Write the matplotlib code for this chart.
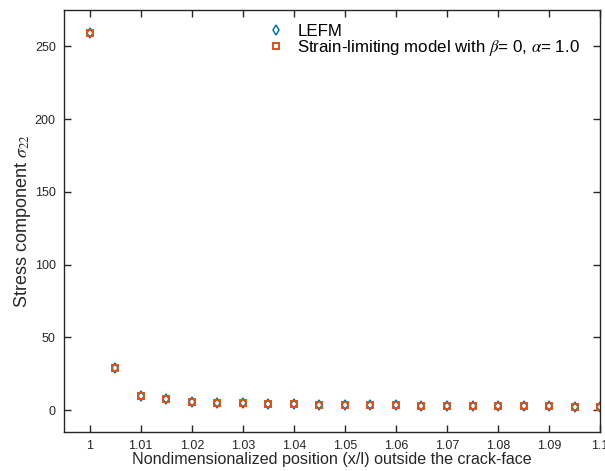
import numpy as np
import matplotlib.pyplot as plt

plt.rcParams['font.family'] = ['Liberation Sans', 'DejaVu Sans']
plt.rcParams['mathtext.fontset'] = 'stix'

# positions outside the crack face (x/l)
x_pos = [1.000, 1.005, 1.010, 1.015, 1.020, 1.025, 1.030, 1.035, 1.040, 1.045, 1.050,
         1.055, 1.060, 1.065, 1.070, 1.075, 1.080, 1.085, 1.090, 1.095, 1.100]
sigma_lefm = [259.0, 29.2, 9.4, 7.3, 5.7, 5.0, 4.6, 4.1, 3.9, 3.7, 3.4,
              3.3, 3.2, 3.1, 2.9, 2.8, 2.7, 2.6, 2.5, 2.4, 2.3]
sigma_strain = [259.0, 29.2, 9.4, 7.3, 5.7, 5.0, 4.6, 4.1, 3.9, 3.7, 3.4,
                3.3, 3.2, 3.1, 2.9, 2.8, 2.7, 2.6, 2.5, 2.4, 2.3]
x_ticks = [1.0, 1.01, 1.02, 1.03, 1.04, 1.05, 1.06, 1.07, 1.08, 1.09, 1.1]
x_tick_labels = ['1', '1.01', '1.02', '1.03', '1.04', '1.05', '1.06', '1.07', '1.08', '1.09', '1.1']
y_ticks = [0, 50, 100, 150, 200, 250]

blue = '#0072BD'
orange = '#D95319'
axcol = '#262626'

fig = plt.figure(figsize=(6.05, 4.71), dpi=100)
ax = fig.add_axes([0.106, 0.083, 0.886, 0.896])

ax.plot(x_pos, sigma_lefm, linestyle='none', marker='d', markersize=5.5,
        markerfacecolor='none', markeredgecolor=blue, markeredgewidth=1.1, label='LEFM')
ax.plot(x_pos, sigma_strain, linestyle='none', marker='s', markersize=4.3,
        markerfacecolor='none', markeredgecolor=orange, markeredgewidth=1.4,
        label=r'Strain-limiting model with $\beta$= 0, $\alpha$= 1.0')

ax.set_xlim(0.995, 1.1)
ax.set_ylim(-15, 275)
ax.set_xticks(x_ticks)
ax.set_xticklabels(x_tick_labels)
ax.set_yticks(y_ticks)
ax.tick_params(direction='in', top=True, right=True, length=5, width=1,
               labelsize=9, colors=axcol, pad=6)
for s in ax.spines.values():
    s.set_color(axcol)
    s.set_linewidth(1)

ax.set_xlabel('Nondimensionalized position (x/l) outside the crack-face', fontsize=11.6,
              color=axcol, labelpad=0)
ax.set_ylabel(r'Stress component $\sigma_{22}$', fontsize=13, color=axcol, labelpad=1)

ax.legend(loc='upper right', bbox_to_anchor=(0.985, 0.995), frameon=False, fontsize=12.2,
          handletextpad=0.5, borderpad=0.2, labelspacing=-0.08, handlelength=1.5)

fig.savefig('out.png', dpi=100)
